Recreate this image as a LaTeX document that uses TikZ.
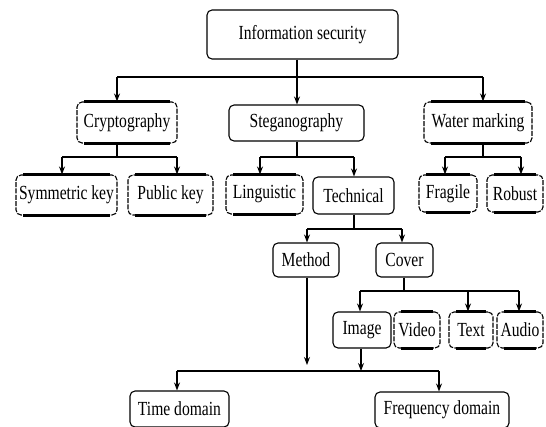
\documentclass[tikz,border=0pt]{standalone}
\usepackage{fontspec}
\setmainfont{Liberation Serif}
\usetikzlibrary{arrows.meta}
\newcommand{\sqz}[1]{\scalebox{0.78}[1]{#1}}
\begin{document}
\begin{tikzpicture}[x=1pt,y=-1pt,
  box/.style={draw, line width=1.1pt, rounded corners=5pt, inner sep=0pt,
              font=\fontsize{20}{22}\selectfont},
  rough/.style={box, dash pattern=on 5pt off 1.3pt},
  conn/.style={line width=1.1pt},
  arr/.style={conn, -{Stealth[length=8pt,width=6pt]}},
  bar/.style={line width=2.8pt}
]
\useasboundingbox (0,0) rectangle (546,426);
\fill[white] (0,0) rectangle (546,426);

% nodes
\node[box,   minimum width=191pt, minimum height=49pt] (info)  at (302.5,34.5) {\sqz{Information security}};
\node[rough, minimum width=100pt, minimum height=41pt] (crypt) at (127,122.5) {\sqz{Cryptography}};
\node[box,   minimum width=135pt, minimum height=36pt] (steg)  at (296.5,123) {\sqz{Steganography}};
\node[rough, minimum width=108pt, minimum height=41pt] (water) at (478,122.5) {\sqz{Water marking}};
\node[rough, minimum width=101pt, minimum height=40pt] (sym)   at (66.5,195) {\sqz{Symmetric key}};
\node[rough, minimum width=85pt,  minimum height=40pt] (pub)   at (170.5,195) {\sqz{Public key}};
\node[rough, minimum width=77pt,  minimum height=39pt] (ling)  at (264.5,194.5) {\sqz{Linguistic}};
\node[box,   minimum width=81pt,  minimum height=37pt] (tech)  at (353.5,195.5) {\sqz{Technical}};
\node[rough, minimum width=58pt,  minimum height=37pt] (frag)  at (448,193.5) {\sqz{Fragile}};
\node[rough, minimum width=56pt,  minimum height=37pt] (rob)   at (515,193.5) {\sqz{Robust}};
\node[box,   minimum width=66pt,  minimum height=34pt] (meth)  at (306,260) {\sqz{Method}};
\node[box,   minimum width=57pt,  minimum height=34pt] (cover) at (404.5,260) {\sqz{Cover}};
\node[box,   minimum width=58pt,  minimum height=36pt] (img)   at (362,330) {\sqz{Image}};
\node[rough, minimum width=46pt,  minimum height=36pt] (vid)   at (417,330) {\sqz{Video}};
\node[rough, minimum width=44pt,  minimum height=36pt] (txt)   at (471,330) {\sqz{Text}};
\node[rough, minimum width=46pt,  minimum height=36pt] (aud)   at (520,330) {\sqz{Audio}};
\node[box,   minimum width=99pt,  minimum height=36pt] (time)  at (179.5,409) {\sqz{Time domain}};
\node[box,   minimum width=134pt, minimum height=36pt] (freq)  at (442,410) {\sqz{Frequency domain}};

% thick scan bars on the rough boxes
\foreach \n in {crypt,water,sym,pub,ling,frag,rob,vid,txt,aud}{
  \draw[bar] ([xshift=8pt]\n.north west) -- ([xshift=-8pt]\n.north east);
  \draw[bar] ([xshift=8pt]\n.south west) -- ([xshift=-8pt]\n.south east);
}

% junction coordinates
\coordinate (j1) at (297,77);   \coordinate (h1L) at (117,77);  \coordinate (h1R) at (483,77);
\coordinate (jc) at (117,157);  \coordinate (hcL) at (62,157);  \coordinate (hcR) at (177,157);
\coordinate (js) at (297,157);  \coordinate (hsL) at (260,157); \coordinate (hsR) at (354,157);
\coordinate (jw) at (483,157);  \coordinate (hwL) at (445,157); \coordinate (hwR) at (521,157);
\coordinate (jt) at (354,229);  \coordinate (htL) at (307,229); \coordinate (htR) at (402,229);
\coordinate (jv) at (404,291);  \coordinate (hvL) at (360,291); \coordinate (hvM) at (468,291); \coordinate (hvR) at (519,291);
\coordinate (mEnd) at (307,365);
\coordinate (jb) at (361,371);  \coordinate (hbL) at (177,371); \coordinate (hbR) at (439,371);

% level 1
\draw[conn] (info.south -| j1) -- (j1);
\draw[conn] (h1L) -- (h1R);
\draw[arr] (h1L) -- (h1L |- crypt.north);
\draw[arr] (j1) -- (j1 |- steg.north);
\draw[arr] (h1R) -- (h1R |- water.north);

% cryptography
\draw[conn] (crypt.south -| jc) -- (jc);
\draw[conn] (hcL) -- (hcR);
\draw[arr] (hcL) -- (hcL |- sym.north);
\draw[arr] (hcR) -- (hcR |- pub.north);

% steganography
\draw[conn] (steg.south -| js) -- (js);
\draw[conn] (hsL) -- (hsR);
\draw[arr] (hsL) -- (hsL |- ling.north);
\draw[arr] (hsR) -- (hsR |- tech.north);

% water marking
\draw[conn] (water.south -| jw) -- (jw);
\draw[conn] (hwL) -- (hwR);
\draw[arr] (hwL) -- (hwL |- frag.north);
\draw[arr] (hwR) -- (hwR |- rob.north);

% technical
\draw[conn] (tech.south -| jt) -- (jt);
\draw[conn] (htL) -- (htR);
\draw[arr] (htL) -- (htL |- meth.north);
\draw[arr] (htR) -- (htR |- cover.north);

% cover
\draw[conn] (cover.south -| jv) -- (jv);
\draw[conn] (hvL) -- (hvR);
\draw[arr] (hvL) -- (hvL |- img.north);
\draw[arr] (hvM) -- (hvM |- txt.north);
\draw[arr] (hvR) -- (hvR |- aud.north);

% method and image to domains
\draw[arr] (meth.south -| mEnd) -- (mEnd);
\draw[arr] (img.south -| jb) -- (jb);
\draw[conn] (hbL) -- (hbR);
\draw[arr] (hbL) -- (hbL |- time.north);
\draw[arr] (hbR) -- (hbR |- freq.north);
\end{tikzpicture}
\end{document}
